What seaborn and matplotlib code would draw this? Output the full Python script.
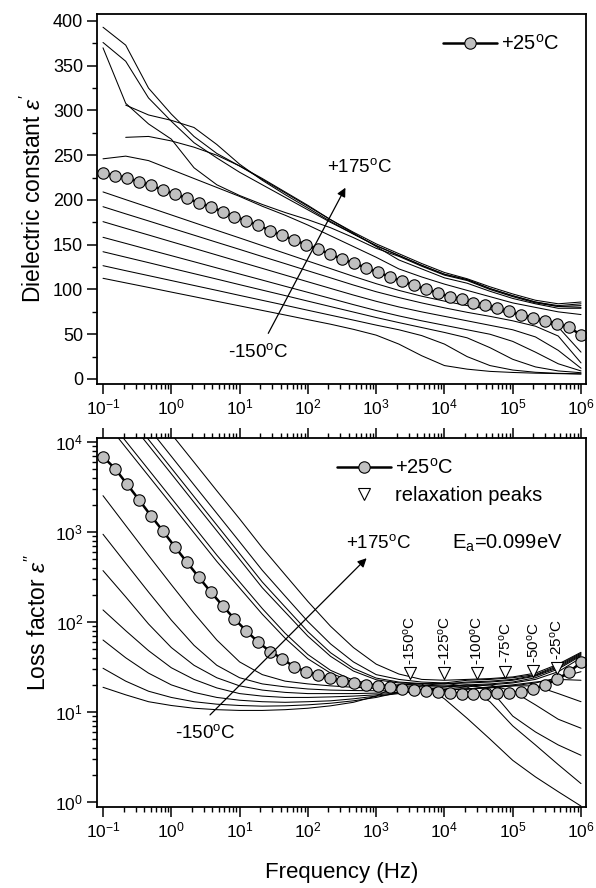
import numpy as np
import pandas as pd
import matplotlib
matplotlib.use("Agg")
import matplotlib.pyplot as plt
import seaborn as sns
from matplotlib.lines import Line2D
from matplotlib.ticker import MultipleLocator, NullFormatter, FixedLocator, LogFormatterSciNotation

sns.set_style("ticks")
plt.rcParams["font.family"] = ["Liberation Sans", "DejaVu Sans"]
plt.rcParams["mathtext.fontset"] = "custom"
plt.rcParams["mathtext.rm"] = "Liberation Sans"
plt.rcParams["mathtext.it"] = "Liberation Sans:italic"
plt.rcParams["mathtext.bf"] = "Liberation Sans:bold"
plt.rcParams["mathtext.sf"] = "Liberation Sans"
for k in ("text.color", "axes.labelcolor", "xtick.color", "ytick.color", "axes.edgecolor"):
    plt.rcParams[k] = "black"

# ---------------- data ----------------
# frequency grid of the thin curves (Hz)
freq = [0.1, 0.215, 0.464, 1, 2.15, 4.64, 10, 21.5, 46.4, 100, 215, 464,
        1e3, 2.15e3, 4.64e3, 1e4, 2.15e4, 4.64e4, 1e5, 2.15e5, 4.64e5, 1e6]

# frequency grid of the +25 C curve (markers)
freq25 = [0.1, 0.1496, 0.2239, 0.335, 0.501, 0.750, 1.122, 1.679, 2.512, 3.758,
          5.623, 8.414, 12.59, 18.84, 28.18, 42.17, 63.10, 94.41, 141.3, 211.3,
          316.2, 473.2, 707.9, 1059, 1585, 2371, 3548, 5309, 7943, 11885,
          17783, 26607, 39811, 59566, 89125, 133352, 199526, 298538, 446684,
          668344, 1e6]

temps = ["-150", "-125", "-100", "-75", "-50", "-25", "0",
         "+50", "+75", "+100", "+125", "+150", "+175"]

# dielectric constant eps'
e1_m150 = [112.5, 107.4, 102.3, 97.1, 92.0, 86.8, 81.7, 76.6, 71.5, 66.3, 61.2, 55.5,
           49.0, 39.0, 26.0, 15.0, 11.0, 8.5, 7.3, 6.5, 6.0, 5.5]
e1_m125 = [126.6, 121.0, 115.5, 110.0, 104.5, 99.0, 93.4, 87.9, 82.4, 76.8, 71.3, 65.8,
           60.2, 55.0, 48.5, 39.0, 25.0, 15.0, 10.0, 7.5, 6.3, 5.8]
e1_m100 = [142.2, 136.1, 130.0, 123.8, 117.7, 111.6, 105.4, 99.3, 93.2, 87.0, 80.9, 74.8,
           68.7, 63.0, 57.5, 52.0, 46.0, 35.0, 22.0, 13.5, 9.0, 7.0]
e1_m75 = [158.3, 151.5, 144.6, 137.8, 131.0, 124.1, 117.3, 110.5, 103.6, 96.8, 90.0, 83.1,
          76.5, 70.5, 65.0, 60.0, 55.0, 50.0, 42.0, 30.0, 17.0, 9.0]
e1_m50 = [175.8, 168.3, 160.9, 153.4, 146.0, 138.5, 131.0, 123.6, 116.1, 108.6, 101.2, 93.8,
          86.8, 80.5, 75.0, 70.0, 65.0, 60.0, 55.0, 47.0, 32.0, 12.0]
e1_m25 = [192.5, 184.5, 176.6, 168.6, 160.7, 152.7, 144.8, 136.8, 128.9, 120.9, 113.0, 105.0,
          97.5, 91.0, 85.0, 79.5, 74.5, 70.0, 65.0, 59.0, 48.0, 18.0]
e1_0 = [209.0, 200.4, 191.9, 183.3, 174.7, 166.1, 157.6, 149.0, 140.4, 131.8, 123.3, 114.7,
        106.5, 99.0, 92.5, 87.0, 82.0, 77.5, 73.0, 67.5, 58.0, 30.0]
e1_p50 = [246, 249, 244, 234, 224, 214, 204, 193, 183, 172, 160, 148,
          136, 123, 114, 106, 99, 92, 85, 80, 75, 72]
e1_p75 = [np.nan, 270, 271, 266, 259, 250, 238, 224, 209, 194, 178, 163,
          148, 133, 123, 113, 107, 98, 90, 84, 79, 79]
e1_p100 = [np.nan, 306, 295, 289, 281, 262, 240, 222, 206, 191, 176, 162,
           149, 138, 127, 117, 111, 101, 93, 86, 81, 80]
e1_p125 = [370, 308, 285, 268, 236, 217, 205, 195, 186, 178, 169, 158,
           146, 137, 126, 116, 110, 100, 92, 85, 81, 82]
e1_p150 = [376, 355, 314, 288, 264, 247, 231, 217, 203, 189, 175, 162,
           149, 138, 127, 117, 111, 101, 93, 86, 82, 84]
e1_p175 = [393, 373, 325, 296, 271, 252, 238, 223, 208, 193, 178, 164,
           151, 140, 129, 119, 112, 103, 95, 88, 84, 86]
e1_p25 = [229.8, 227.1, 224.9, 220.4, 216.4, 211.2, 207.0, 201.9, 197.0, 192.5,
          187.0, 181.3, 176.9, 171.7, 165.7, 160.5, 155.3, 150.1, 144.9, 139.7,
          134.0, 129.3, 124.4, 119.2, 114.3, 109.5, 104.7, 100.2, 96.5, 92.0,
          89.0, 85.3, 83.0, 79.0, 75.6, 71.8, 68.2, 65.1, 61.5, 57.7, 49.2]

# loss factor eps''
e2_m150 = [18.8, 15.5, 13.0, 11.8, 11.0, 10.6, 10.4, 10.4, 10.6, 11.0, 11.7, 12.8,
           15.0, 20.0, 20.5, 14.0, 8.5, 5.0, 2.9, 1.9, 1.3, 0.9]
e2_m125 = [30.6, 22.0, 17.0, 14.5, 13.0, 12.2, 11.8, 11.6, 11.7, 12.0, 12.5, 13.3,
           14.5, 16.5, 19.5, 21.0, 19.0, 13.0, 7.0, 4.3, 2.6, 1.6]
e2_m100 = [63, 40, 27, 20, 16.5, 14.5, 13.5, 13.0, 12.8, 13.0, 13.3, 14.0,
           15.0, 16.0, 17.5, 19.0, 20.0, 18.0, 9.0, 6.0, 4.3, 3.3]
e2_m75 = [136, 80, 48, 31, 23, 18.5, 16.0, 15.0, 14.5, 14.5, 14.7, 15.0,
          15.5, 16.3, 17.2, 18.0, 19.0, 20.0, 17.0, 12.0, 8.3, 6.6]
e2_m50 = [372, 190, 95, 52, 33, 24, 19.5, 17.5, 16.5, 16.0, 16.0, 16.0,
          16.2, 16.5, 17.0, 17.5, 18.0, 18.8, 19.5, 19.5, 16.0, 13.0]
e2_m25 = [943, 450, 215, 105, 55, 33, 24, 20.5, 19.0, 18.0, 17.5, 17.3,
          17.2, 17.2, 17.3, 17.5, 18.0, 19.0, 20.0, 21.5, 23.0, 22.5]
e2_0 = [2530, 1180, 550, 260, 125, 63, 36, 26, 22, 20.5, 19.5, 18.8,
        18.3, 18.0, 17.8, 17.8, 18.0, 18.5, 19.5, 21.0, 24.0, 28.0]
e2_p50 = [18070, 8710, 4200, 2027, 977, 471, 239, 122, 66, 39, 27, 21.5,
          19.5, 19.0, 19.0, 19.0, 19.5, 20.0, 21.0, 23.0, 28.0, 40.0]
e2_p75 = [21200, 10230, 4930, 2380, 1148, 553, 279, 141, 75, 43.5, 29, 22.5,
          20.0, 20.0, 19.8, 19.5, 20.0, 20.5, 21.5, 24.0, 30.0, 42.0]
e2_p100 = [39400, 19000, 9180, 4430, 2135, 1030, 497, 240, 129, 69.5, 41.5, 28.5,
           22.8, 21.0, 20.5, 20.5, 21.0, 21.5, 22.5, 25.0, 31.0, 43.0]
e2_p125 = [45700, 22100, 10640, 5130, 2475, 1194, 576, 278, 147, 78, 45.5, 30.5,
           23.8, 21.5, 20.7, 20.5, 21.5, 22.0, 23.0, 25.5, 32.0, 44.0]
e2_p150 = [61700, 30000, 14400, 6930, 3340, 1610, 778, 375, 194, 101, 57, 36,
           26.0, 23.0, 21.5, 21.0, 22.5, 23.0, 24.0, 26.0, 33.0, 45.0]
e2_p175 = [110000, 53000, 25500, 12300, 5960, 2870, 1398, 668, 335, 169, 89.5, 52,
           34.0, 26.4, 23.0, 22.5, 23.0, 23.5, 24.5, 27.0, 34.0, 46.0]
e2_p25 = [6870, 5060, 3410, 2290, 1520, 1030, 687, 465, 316, 217, 152, 108, 79.4,
          59.4, 46.8, 39.1, 31.6, 28.1, 25.7, 23.7, 22.2, 21.2, 20.0, 19.5, 18.8,
          18.2, 17.5, 17.1, 16.7, 16.4, 16.0, 16.0, 16.0, 16.1, 16.2, 16.8, 18.0,
          20.0, 23.1, 27.8, 35.5]

# relaxation peaks (triangles)
peak_labels = ["-150", "-125", "-100", "-75", "-50", "-25"]
peak_freq = [3100, 1.0e4, 2.95e4, 7.8e4, 2.0e5, 4.4e5]
peak_val = [27.0, 27.0, 27.0, 28.0, 28.6, 30.6]

# tick positions
decades_x = [1e-1, 1e0, 1e1, 1e2, 1e3, 1e4, 1e5, 1e6]
decades_y2 = [1e0, 1e1, 1e2, 1e3, 1e4]

eps1_curves = [e1_m150, e1_m125, e1_m100, e1_m75, e1_m50, e1_m25, e1_0,
               e1_p50, e1_p75, e1_p100, e1_p125, e1_p150, e1_p175]
eps2_curves = [e2_m150, e2_m125, e2_m100, e2_m75, e2_m50, e2_m25, e2_0,
               e2_p50, e2_p75, e2_p100, e2_p125, e2_p150, e2_p175]


def to_long(curves):
    rows = []
    for t, vals in zip(temps, curves):
        for f, v in zip(freq, vals):
            if not np.isnan(v):
                rows.append((t, f, v))
    return pd.DataFrame(rows, columns=["T", "f", "v"])


def minor_of(decs):
    out = []
    for d in decs[:-1]:
        out += [m * d for m in range(2, 10)]
    return out


df1 = to_long(eps1_curves)
df2 = to_long(eps2_curves)

deg = r"$^\mathrm{o}$C"

# ---------------- figure ----------------
fig = plt.figure(figsize=(5.96, 8.88), dpi=100)
ax1 = fig.add_axes([97 / 596, 1 - 384 / 888, 489 / 596, 370 / 888])
ax2 = fig.add_axes([97 / 596, 1 - 807 / 888, 489 / 596, 369 / 888])

for ax in (ax1, ax2):
    ax.set_xscale("log")

thin = dict(color="black", lw=0.75)
mk = dict(color="black", lw=1.8, marker="o", markersize=8.2,
          markerfacecolor="#c0c0c0", markeredgecolor="black", markeredgewidth=0.8)

sns.lineplot(data=df1, x="f", y="v", units="T", estimator=None, ax=ax1,
             legend=False, **thin)
sns.lineplot(x=freq25, y=e1_p25, ax=ax1, legend=False, **mk)

sns.lineplot(data=df2, x="f", y="v", units="T", estimator=None, ax=ax2,
             legend=False, **thin)
sns.lineplot(x=freq25, y=e2_p25, ax=ax2, legend=False, **mk)
sns.scatterplot(x=peak_freq, y=peak_val, ax=ax2, marker="v", s=75,
                facecolor="white", edgecolor="black", linewidth=0.8, zorder=5)

ax2.set_yscale("log")

xlim = (10 ** -1.088, 10 ** 6.073)
ax1.set_xlim(*xlim)
ax2.set_xlim(*xlim)
ax1.set_ylim(-5.6, 407.8)
ax2.set_ylim(10 ** -0.056, 10 ** 4.044)

for ax in (ax1, ax2):
    ax.xaxis.set_major_locator(FixedLocator(decades_x))
    ax.xaxis.set_major_formatter(LogFormatterSciNotation())
    ax.xaxis.set_minor_locator(FixedLocator(minor_of(decades_x)))
    ax.xaxis.set_minor_formatter(NullFormatter())
    for s in ax.spines.values():
        s.set_linewidth(1.3)
        s.set_color("black")
    ax.tick_params(which="major", direction="out", length=7, width=1.1,
                   labelsize=12.5, colors="black", pad=3)
    ax.tick_params(which="minor", direction="out", length=3.8, width=1.0, colors="black")
    ax.set_xlabel("")

ax1.yaxis.set_major_locator(MultipleLocator(50))
ax1.yaxis.set_minor_locator(MultipleLocator(25))
ax2.yaxis.set_major_locator(FixedLocator(decades_y2))
ax2.yaxis.set_major_formatter(LogFormatterSciNotation())
ax2.yaxis.set_minor_locator(FixedLocator(minor_of(decades_y2)))
ax2.yaxis.set_minor_formatter(NullFormatter())
ax1.tick_params(axis="y", labelsize=13)
ax1.tick_params(axis="x", which="both", top=False, bottom=True)
ax2.tick_params(axis="x", which="both", top=True, bottom=True, labeltop=False)

ax1.set_ylabel(r"Dielectric constant $\varepsilon'$", fontsize=16.5, labelpad=5)
ax2.set_ylabel(r"Loss factor $\varepsilon''$", fontsize=16.5, labelpad=3)
ax2.set_xlabel("Frequency (Hz)", fontsize=16, labelpad=15)

# legends
h25 = Line2D([], [], **mk)
ax1.legend([h25], ["+25" + deg], loc="upper left", bbox_to_anchor=(0.7076, 0.946),
           frameon=False, fontsize=14.5, handlelength=2.7, borderpad=0,
           borderaxespad=0, handletextpad=0.2)
htri = Line2D([], [], ls="none", marker="v", markersize=9, markerfacecolor="white",
              markeredgecolor="black", markeredgewidth=0.8)
ax2.legend([h25, htri], ["+25" + deg, "relaxation peaks"], loc="upper left",
           bbox_to_anchor=(0.4908, 0.947), frameon=False, fontsize=14.5,
           handlelength=2.7, borderpad=0, borderaxespad=0, handletextpad=0.2,
           labelspacing=0.42)

# annotations top
arrow = dict(arrowstyle="-|>", color="black", lw=0.9, mutation_scale=13,
             shrinkA=0, shrinkB=0)
ax1.annotate("", xy=(10 ** 2.55, 213.7), xytext=(10 ** 1.42, 51), arrowprops=arrow)
ax1.text(10 ** 2.76, 237, "+175" + deg, fontsize=13.5, ha="center", va="center")
ax1.text(10 ** 1.277, 30.7, "-150" + deg, fontsize=13.5, ha="center", va="center")

# annotations bottom
ax2.annotate("", xy=(10 ** 2.86, 511), xytext=(10 ** 0.567, 9.27), arrowprops=arrow)
ax2.text(10 ** 3.03, 748, "+175" + deg, fontsize=13.5, ha="center", va="center")
ax2.text(10 ** 0.493, 5.8, "-150" + deg, fontsize=13.5, ha="center", va="center")
ax2.text(10 ** 4.92, 748, r"E$_\mathrm{a}$=0.099eV", fontsize=14.5, ha="center",
         va="center")
for lab, f, v in zip(peak_labels, peak_freq, peak_val):
    ax2.annotate(lab + deg, xy=(f, v), xytext=(0, 6), textcoords="offset points",
                 rotation=90, ha="center", va="bottom", fontsize=11)

fig.savefig("out.png", dpi=100)
